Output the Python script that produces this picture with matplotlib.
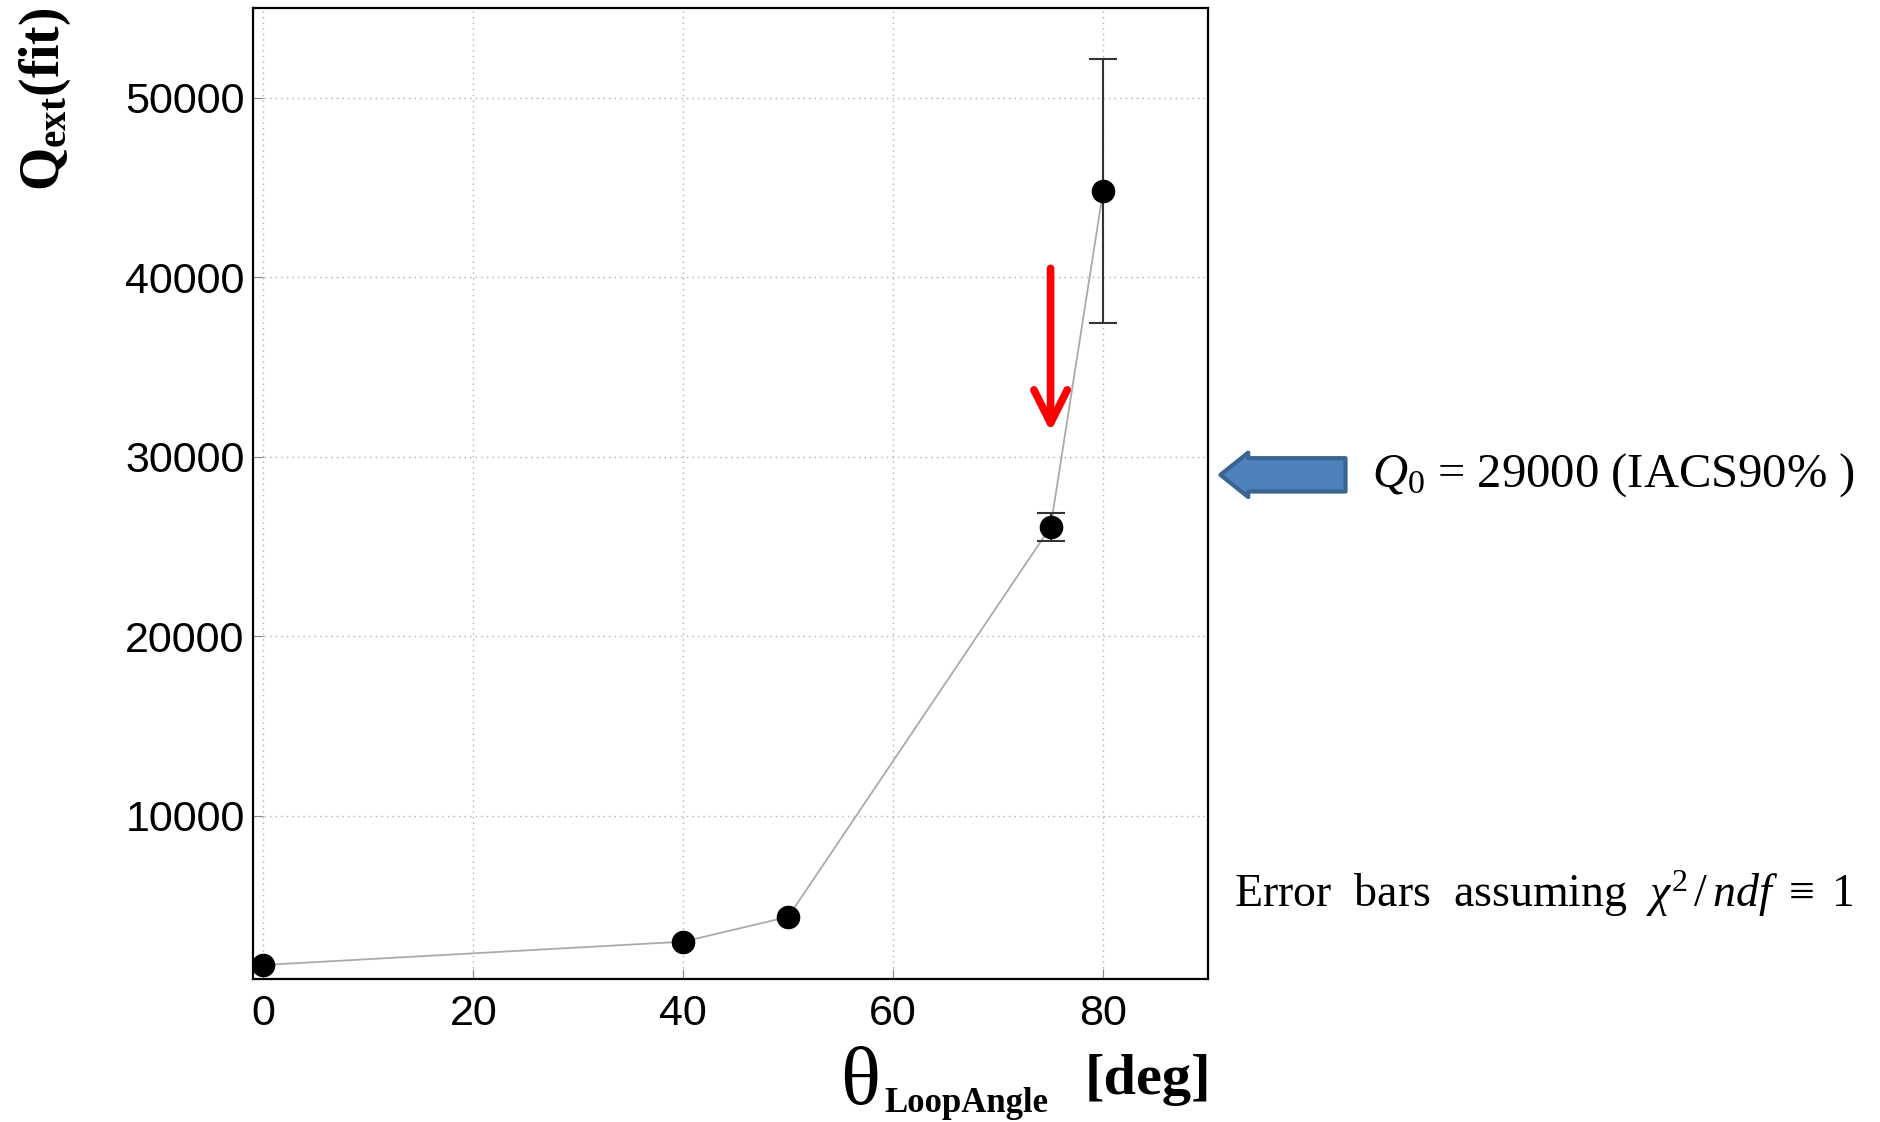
import numpy as np
import matplotlib.pyplot as plt

# data
angle = [0, 40, 50, 75, 80]
q_ext = [1700, 3000, 4380, 26100, 44800]
q_err = [0, 0, 0, 800, 7350]
x_ticks = [0, 20, 40, 60, 80]
y_ticks = [10000, 20000, 30000, 40000, 50000]
q0 = 29000
arrow_top, arrow_tip = 40500, 31400   # red arrow at 75 deg

plt.rcParams['mathtext.fontset'] = 'custom'
plt.rcParams['mathtext.rm'] = 'Liberation Serif'
plt.rcParams['mathtext.it'] = 'Liberation Serif:italic'
plt.rcParams['mathtext.bf'] = 'Liberation Serif:bold'

W, H = 1881, 1122
fig = plt.figure(figsize=(W / 100, H / 100), dpi=100)
ax = fig.add_axes([253 / W, 1 - 979 / H, 955 / W, 971 / H])

ax.plot(angle, q_ext, color='#aaaaaa', lw=1.3, zorder=2)
ax.plot(angle, q_ext, 'o', color='black', ms=16, zorder=4)

err = np.array(q_err)
m = err > 0
ax.errorbar(np.array(angle)[m], np.array(q_ext)[m], yerr=err[m], fmt='none',
            ecolor='#333333', elinewidth=1.5, capsize=10, capthick=1.5, zorder=3)

ax.set_xlim(-1, 90)
ax.set_ylim(920, 55000)
ax.set_xticks(x_ticks)
ax.set_yticks(y_ticks)
ax.grid(True, color='#b0b0b0', linestyle=(0, (1, 3)), lw=1)
ax.tick_params(direction='in', length=7, color='#888888', labelsize=31,
               pad=6)
ax.tick_params(axis='x', pad=11)
for lab in ax.get_xticklabels() + ax.get_yticklabels():
    lab.set_fontfamily('Liberation Sans')
for s in ax.spines.values():
    s.set_linewidth(1.6)

# red arrow
ax.annotate('', xy=(75, arrow_tip), xytext=(75, arrow_top),
            arrowprops=dict(arrowstyle='->,head_length=1.2,head_width=0.6',
                            mutation_scale=20, color='#ff0000', lw=5.5,
                            shrinkA=0, shrinkB=0))

# blue block arrow pointing at Q0 level
ax.annotate('', xy=(1.013, q0), xytext=(1.144, q0),
            xycoords=('axes fraction', 'data'),
            textcoords=('axes fraction', 'data'),
            annotation_clip=False,
            arrowprops=dict(arrowstyle='simple,head_length=1.0,head_width=1.6,tail_width=1.2',
                            mutation_scale=20, fc='#4f81bd', ec='#3a6591', lw=3,
                            shrinkA=0, shrinkB=0))
ax.text(1.172, q0, r'$Q_0$ = 29000 (IACS90% )', transform=ax.get_yaxis_transform(),
        fontfamily='Liberation Serif', fontsize=35, va='center', ha='left',
        clip_on=False)

fig.text(1234 / W, 1 - 894 / H,
         r'Error  bars  assuming  $\chi^2\,/\,ndf\ \equiv\ 1$',
         fontfamily='Liberation Serif', fontsize=33, va='center', ha='left')

# axis titles
fig.text(45 / W, 1 - 99 / H, r'$\mathbf{Q_{ext}}$(fit)', rotation=90,
         fontfamily='Liberation Serif', fontweight='bold', fontsize=40,
         ha='center', va='center')
fig.text(840 / W, 1 - 1104 / H, 'θ', fontfamily='Liberation Serif',
         fontsize=60, ha='left', va='baseline')
fig.text(884 / W, 1 - 1112 / H, 'LoopAngle', fontfamily='Liberation Serif',
         fontweight='bold', fontsize=25, ha='left', va='baseline')
fig.text(1148 / W, 1 - 1080 / H, '[deg]', fontfamily='Liberation Serif',
         fontweight='bold', fontsize=42, ha='center', va='center')

fig.savefig('out.png', dpi=100, facecolor='white')
